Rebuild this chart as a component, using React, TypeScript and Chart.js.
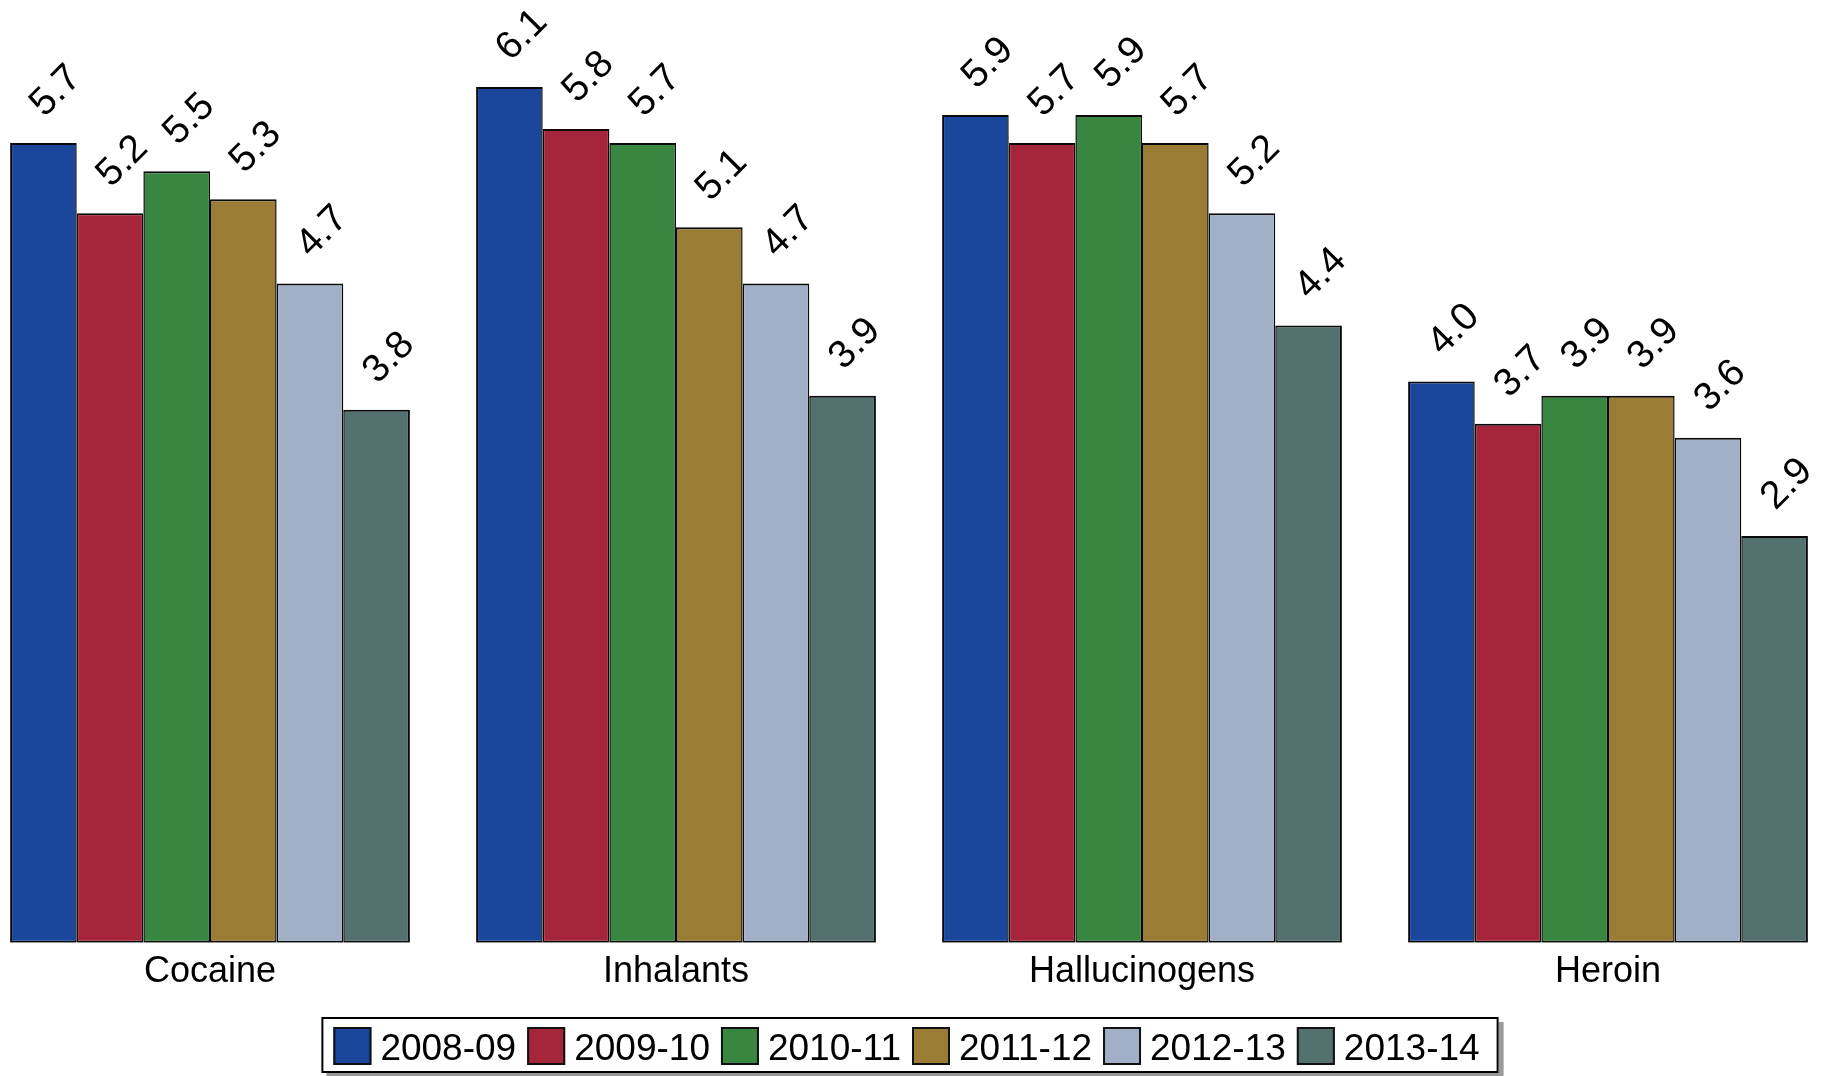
import React, { useEffect, useRef } from "react";
import { Chart, registerables } from "chart.js";

Chart.register(...registerables);

const categories = ["Cocaine", "Inhalants", "Hallucinogens", "Heroin"];
const seriesLabels = ["2008-09", "2009-10", "2010-11", "2011-12", "2012-13", "2013-14"];
const s2008 = [5.7, 6.1, 5.9, 4.0];
const s2009 = [5.2, 5.8, 5.7, 3.7];
const s2010 = [5.5, 5.7, 5.9, 3.9];
const s2011 = [5.3, 5.1, 5.7, 3.9];
const s2012 = [4.7, 4.7, 5.2, 3.6];
const s2013 = [3.8, 3.9, 4.4, 2.9];
const seriesValues = [s2008, s2009, s2010, s2011, s2012, s2013];
const colors = ["#1a469b", "#a5263b", "#398641", "#9a7c35", "#a2b0c7", "#52716f"];

const FONT = '"Liberation Sans", Arial, sans-serif';
const CANVAS_W = 1864;
const CANVAS_H = 1076;
const SHIFT = -23;

const barLabelPlugin = {
  id: "barLabels",
  afterDatasetsDraw(chart: any) {
    const ctx = chart.ctx;
    ctx.save();
    ctx.font = `39px ${FONT}`;
    ctx.fillStyle = "#000";
    ctx.textAlign = "left";
    ctx.textBaseline = "alphabetic";
    chart.data.datasets.forEach((ds: any, i: number) => {
      const meta = chart.getDatasetMeta(i);
      meta.data.forEach((el: any, j: number) => {
        const v = ds.data[j];
        ctx.save();
        ctx.translate(el.x + 1, el.y - 25);
        ctx.rotate(-Math.PI / 4);
        ctx.fillText(Number(v).toFixed(1), 0, 0);
        ctx.restore();
      });
    });
    ctx.restore();
  },
};

const boxLegendPlugin = {
  id: "boxLegend",
  afterDraw(chart: any) {
    const ctx = chart.ctx;
    ctx.save();
    const fontSize = 37;
    ctx.font = `${fontSize}px ${FONT}`;
    const sw = 38;
    const gapText = 9;
    const gapItem = 11;
    const padL = 12;
    const padR = 19;
    const labels: string[] = chart.data.datasets.map((d: any) => d.label);
    const widths = labels.map((l) => ctx.measureText(l).width);
    let total = 0;
    widths.forEach((w, i) => {
      total += sw + gapText + w + (i < widths.length - 1 ? gapItem : 0);
    });
    const boxW = padL + total + padR;
    const boxH = 56;
    const boxX = chart.width / 2 - boxW / 2 + 1;
    const boxY = 1017;
    ctx.fillStyle = "#9a9a9a";
    ctx.fillRect(boxX + 5, boxY + 5, boxW, boxH);
    ctx.fillStyle = "#fff";
    ctx.fillRect(boxX, boxY, boxW, boxH);
    ctx.lineWidth = 2;
    ctx.strokeStyle = "#000";
    ctx.strokeRect(boxX + 1, boxY + 1, boxW - 2, boxH - 2);
    let x = boxX + padL;
    const swY = 1027;
    labels.forEach((l, i) => {
      const c = chart.data.datasets[i].backgroundColor;
      ctx.fillStyle = c;
      ctx.fillRect(x, swY, sw, sw);
      ctx.strokeStyle = "#111";
      ctx.lineWidth = 2;
      ctx.strokeRect(x + 1, swY + 1, sw - 2, sw - 2);
      ctx.fillStyle = "#000";
      ctx.textAlign = "left";
      ctx.textBaseline = "alphabetic";
      ctx.fillText(l, x + sw + gapText, 1060);
      x += sw + gapText + widths[i] + gapItem;
    });
    ctx.restore();
  },
};

export default function App() {
  const ref = useRef<HTMLCanvasElement | null>(null);

  useEffect(() => {
    if (!ref.current) return;
    const n = seriesLabels.length;
    const chart = new Chart(ref.current, {
      type: "bar",
      data: {
        labels: categories,
        datasets: seriesLabels.map((label, i) => ({
          label,
          data: seriesValues[i],
          backgroundColor: colors[i],
          borderColor: "#0a0a0a",
          borderWidth: {
            top: 2,
            bottom: 2,
            left: i === 0 ? 2 : 1.5,
            right: i === n - 1 ? 2 : 1.5,
          },
          borderSkipped: false,
          categoryPercentage: 0.858,
          barPercentage: 1,
        })),
      },
      options: {
        responsive: false,
        animation: false,
        devicePixelRatio: 1,
        layout: { padding: { left: 0, right: 0, top: 0, bottom: 82 } },
        plugins: {
          legend: { display: false },
          tooltip: { enabled: false },
        },
        scales: {
          x: {
            grid: { display: false },
            border: { display: false },
            ticks: {
              color: "#000",
              font: { family: FONT, size: 36 },
              padding: 0,
            },
          },
          y: { display: false, min: 0, max: 6.72 },
        },
      },
      plugins: [barLabelPlugin, boxLegendPlugin],
    } as any);
    return () => chart.destroy();
  }, []);

  return (
    <div
      style={{
        position: "fixed",
        left: 0,
        top: 0,
        width: 1826,
        height: 1076,
        overflow: "hidden",
        background: "#fff",
      }}
    >
      <canvas
        ref={ref}
        width={CANVAS_W}
        height={CANVAS_H}
        style={{ position: "absolute", left: SHIFT, top: 0, width: CANVAS_W, height: CANVAS_H }}
      />
    </div>
  );
}
